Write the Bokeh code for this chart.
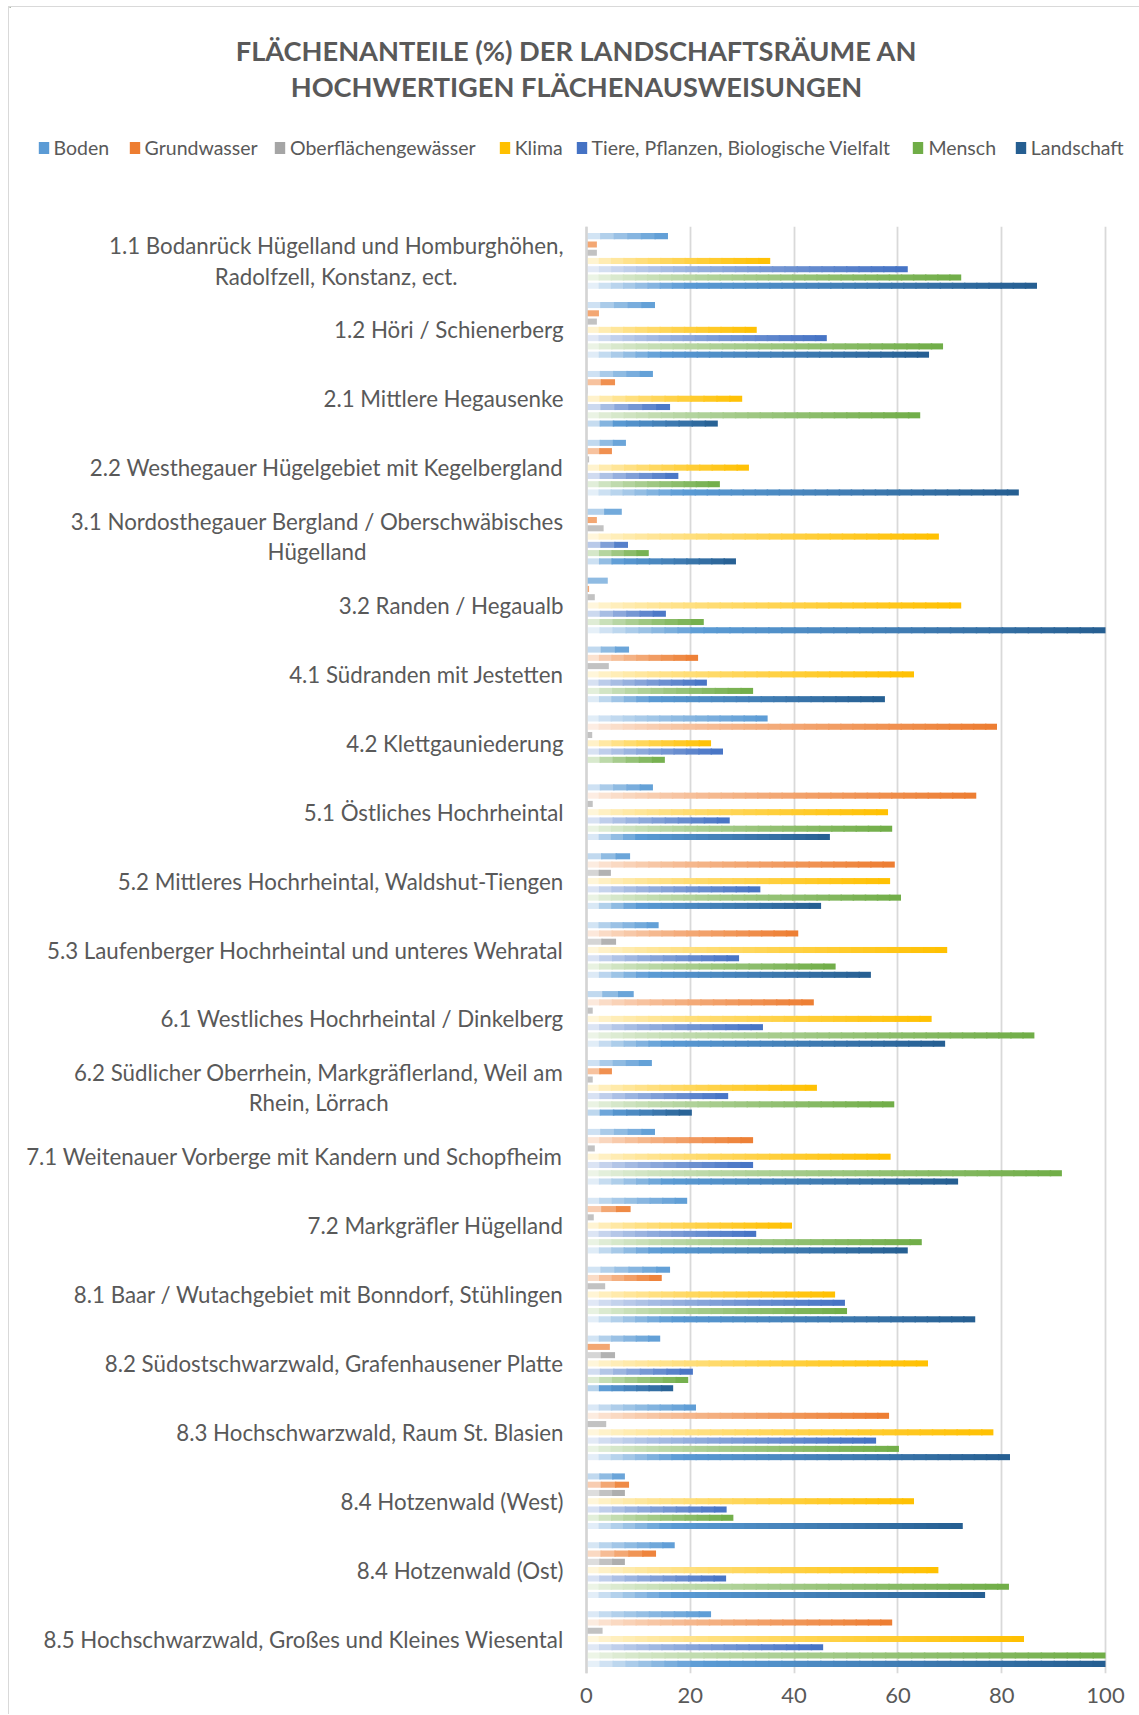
from bokeh.plotting import figure
from bokeh.layouts import column
from bokeh.models import (FactorRange, Range1d, ColumnDataSource, Legend, LegendItem,
                          Label, FixedTicker, Span)
from bokeh.core.properties import value
from bokeh.transform import dodge
from bokeh.embed import file_html
from bokeh.resources import INLINE

categories = [
    "1.1 Bodanrück Hügelland und Homburghöhen,\nRadolfzell, Konstanz, ect.",
    "1.2 Höri / Schienerberg",
    "2.1 Mittlere Hegausenke",
    "2.2 Westhegauer Hügelgebiet mit Kegelbergland",
    "3.1 Nordosthegauer Bergland / Oberschwäbisches\nHügelland",
    "3.2 Randen / Hegaualb",
    "4.1 Südranden mit Jestetten",
    "4.2 Klettgauniederung",
    "5.1 Östliches Hochrheintal",
    "5.2 Mittleres Hochrheintal, Waldshut-Tiengen",
    "5.3 Laufenberger Hochrheintal und unteres Wehratal",
    "6.1 Westliches Hochrheintal / Dinkelberg",
    "6.2 Südlicher Oberrhein, Markgräflerland, Weil am\nRhein, Lörrach",
    "7.1 Weitenauer Vorberge mit Kandern und Schopfheim",
    "7.2 Markgräfler Hügelland",
    "8.1 Baar / Wutachgebiet mit Bonndorf, Stühlingen",
    "8.2 Südostschwarzwald, Grafenhausener Platte",
    "8.3 Hochschwarzwald, Raum St. Blasien",
    "8.4 Hotzenwald (West)",
    "8.4 Hotzenwald (Ost)",
    "8.5 Hochschwarzwald, Großes und Kleines Wiesental",
]

series_names = ["Boden", "Grundwasser", "Oberflächengewässer", "Klima",
                "Tiere, Pflanzen, Biologische Vielfalt", "Mensch", "Landschaft"]

boden = [15.7, 13.2, 12.8, 7.6, 6.8, 4.1, 8.2, 34.9, 12.8, 8.4, 13.9, 9.1, 12.6, 13.2, 19.4, 16.1, 14.2, 21.1, 7.4, 17.0, 24.0]
grundwasser = [2.0, 2.4, 5.5, 4.9, 2.0, 0.5, 21.5, 79.1, 75.1, 59.4, 40.8, 43.8, 4.9, 32.1, 8.5, 14.5, 4.5, 58.3, 8.2, 13.4, 58.9]
oberflaechengewaesser = [2.0, 2.0, 0.2, 0.5, 3.3, 1.6, 4.3, 1.1, 1.2, 4.7, 5.7, 1.2, 1.2, 1.6, 1.4, 3.6, 5.5, 3.8, 7.4, 7.4, 3.1]
klima = [35.4, 32.8, 30.0, 31.3, 67.9, 72.2, 63.1, 24.0, 58.1, 58.5, 69.5, 66.5, 44.4, 58.6, 39.6, 47.9, 65.8, 78.4, 63.1, 67.8, 84.3]
tiere = [61.9, 46.3, 16.1, 17.7, 8.0, 15.3, 23.2, 26.3, 27.6, 33.5, 29.4, 34.0, 27.3, 32.1, 32.7, 49.8, 20.5, 55.8, 27.0, 26.9, 45.6]
mensch = [72.2, 68.7, 64.3, 25.7, 12.0, 22.6, 32.1, 15.1, 58.9, 60.6, 48.0, 86.3, 59.3, 91.6, 64.6, 50.2, 19.6, 60.2, 28.3, 81.4, 100.0]
landschaft = [86.8, 66.0, 25.3, 83.3, 28.8, 100.0, 57.5, 0.0, 46.9, 45.2, 54.8, 69.1, 20.3, 71.6, 61.9, 74.9, 16.7, 81.6, 72.5, 76.8, 100.0]

x_ticks = [0, 20, 40, 60, 80, 100]
title_lines = ["FLÄCHENANTEILE (%) DER LANDSCHAFTSRÄUME AN", "HOCHWERTIGEN FLÄCHENAUSWEISUNGEN"]

series_values = [boden, grundwasser, oberflaechengewaesser, klima, tiere, mensch, landschaft]
colors = ["#5b9bd5", "#ed7d31", "#a5a5a5", "#ffc000", "#4472c4", "#70ad47", "#255e91"]

W = 1130
H_TOP = 190
H_MAIN = 1517
PLOT_LEFT = 577      # px from figure left to value 0
PLOT_WIDTH = 519     # px for 0..100
PLOT_RIGHT = W - PLOT_LEFT - PLOT_WIDTH
PPU = PLOT_WIDTH / 100.0

# ---------- header figure (title + legend) ----------
top = figure(width=W, height=H_TOP, x_range=Range1d(0, W), y_range=Range1d(H_TOP, 0),
             x_axis_location=None, y_axis_location=None, toolbar_location=None,
             output_backend="svg", min_border=0)
top.outline_line_color = None
top.xgrid.visible = False
top.ygrid.visible = False

for txt, yy in zip(title_lines, [43, 79]):
    top.add_layout(Label(x=567, y=yy, text=txt, text_align="center", text_baseline="middle",
                         text_font="Lato", text_font_style="bold", text_font_size="27.2px",
                         text_color="#595959"))

legend_x = [27.6, 118.6, 264, 488.7, 565.6, 902.4, 1004.7]
for k, name in enumerate(series_names):
    dummy = top.hbar(y=[-1000], left=[0], right=[1], height=1,
                     fill_color=colors[k], line_color=None)
    lg = Legend(items=[LegendItem(label=name, renderers=[dummy])],
                location=(legend_x[k], 38), orientation="horizontal",
                padding=0, margin=0, border_line_color=None, background_fill_alpha=0,
                glyph_width=13, glyph_height=15, label_standoff=4, label_height=20,
                label_text_font="Lato", label_text_font_size="19.5px",
                label_text_color="#595959")
    top.add_layout(lg)

# ---------- main chart ----------
p = figure(width=W, height=H_MAIN, output_backend="svg", toolbar_location=None,
           y_range=FactorRange(factors=list(reversed(categories)), range_padding=0),
           x_range=Range1d(-PLOT_LEFT / PPU, 100 + PLOT_RIGHT / PPU),
           y_axis_location=None,
           min_border_left=0, min_border_right=0, min_border_top=29, min_border_bottom=41)
p.outline_line_color = None
p.background_fill_color = "white"
p.border_fill_color = "white"

p.xgrid.grid_line_color = "#d9d9d9"
p.xgrid.grid_line_width = 1.8
p.ygrid.grid_line_color = None
p.xaxis.ticker = FixedTicker(ticks=x_ticks)
p.xaxis.axis_line_color = None
p.xaxis.major_tick_line_color = None
p.xaxis.minor_tick_line_color = None
p.xaxis.major_tick_out = 0
p.xaxis.major_label_text_font = "Lato"
p.xaxis.major_label_text_font_size = "22px"
p.xaxis.major_label_text_color = "#595959"
p.xaxis.major_label_standoff = 14

p.add_layout(Span(location=0, dimension="height", line_color="#d4d4d4", line_width=2.5))

# category labels (right edge 23 px left of the value axis)
p.text(x=-23 / PPU, y=categories, text=categories, anchor="center_right",
       text_align="center", text_baseline="middle",
       text_font=value("Lato"), text_font_size=value("22.3px"), text_color="#595959",
       text_line_height=1.12)


def hex2rgb(h):
    h = h.lstrip("#")
    return tuple(int(h[i:i + 2], 16) for i in (0, 2, 4))


def mix(c1, c2, a):
    r1, r2 = hex2rgb(c1), hex2rgb(c2)
    return "#%02x%02x%02x" % tuple(int(round(x + (y - x) * a)) for x, y in zip(r1, r2))


def grad_color(k, t):
    c = colors[k]
    if k == 6:
        mid = "#5b9bd5"
        if t < 0.22:
            return mix("#ffffff", mid, 0.06 + 0.94 * (t / 0.22) ** 0.8)
        return mix(mid, c, (t - 0.22) / 0.78)
    return mix("#ffffff", c, 0.06 + 0.94 * t ** 0.6)


# each bar runs from 0 to its value; it is filled with a light-to-full colour gradient,
# built from short pieces that overlap by 1.5 px so no seams show
OVERLAP = 1.5 / PPU
pitch = 0.12
bar_h = 0.088
for k, (name, vals) in enumerate(zip(series_names, series_values)):
    off = (3 - k) * pitch
    segs = dict(cat=[], left=[], right=[], color=[], val=[])
    for c, v in zip(categories, vals):
        if v <= 0:
            continue
        n = max(1, min(40, int(v * PPU / 12)))
        for i in range(n):
            segs["cat"].append(c)
            segs["val"].append(v)
            segs["left"].append(v * i / n)
            segs["right"].append(min(v, v * (i + 1) / n + OVERLAP))
            segs["color"].append(grad_color(k, (i + 0.5) / n))
    p.hbar(y=dodge("cat", off, range=p.y_range), left="left", right="right", height=bar_h,
           source=ColumnDataSource(segs), fill_color="color", line_color=None, name=name)

layout = column(top, p, spacing=0,
                styles={"margin-left": "8px", "margin-top": "6px",
                        "border-left": "1px solid #d9d9d9", "border-top": "1px solid #d9d9d9"})

open("out.html", "w").write(file_html(layout, INLINE))
